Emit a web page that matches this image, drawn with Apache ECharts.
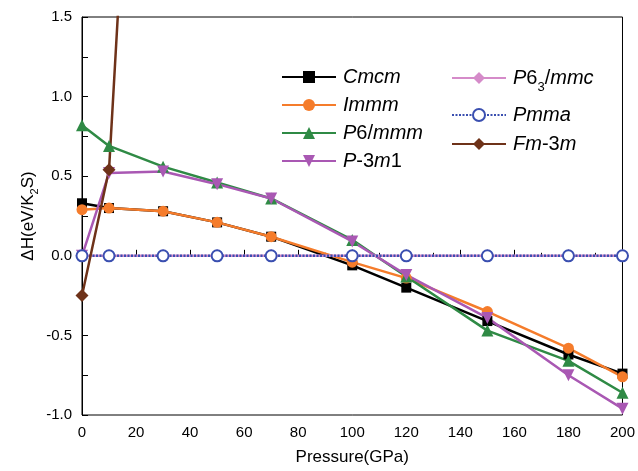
<!DOCTYPE html>
<html><head><meta charset="utf-8">
<script src="https://cdn.jsdelivr.net/npm/echarts@6/dist/echarts.min.js"></script>
<style>html,body{margin:0;padding:0;background:#fff}#c{width:638px;height:471px}</style>
</head><body><div id="c"></div>
<script>
var pressures = [0, 10, 30, 50, 70, 100, 120, 150, 180, 200];
var cmcm   = [0.33, 0.30, 0.28, 0.21, 0.12, -0.06, -0.20, -0.41, -0.62, -0.74];
var immm   = [0.29, 0.30, 0.28, 0.21, 0.12, -0.04, -0.14, -0.35, -0.58, -0.76];
var p6mmm  = [0.82, 0.69, 0.56, 0.46, 0.36, 0.10, -0.13, -0.47, -0.66, -0.86];
var p3m1   = [0.00, 0.52, 0.53, 0.45, 0.36, 0.09, -0.12, -0.39, -0.75, -0.96];
var p63mmc = [0, 0, 0, 0, 0, 0, 0, 0, 0, 0];
var pmma   = [0, 0, 0, 0, 0, 0, 0, 0, 0, 0];
var fmPressures = [0, 10, 30];
var fm3m   = [-0.25, 0.54, 6.5];
var yTicks = [-1.0, -0.5, 0.0, 0.5, 1.0, 1.5];

function pairs(xs, ys){ return xs.map(function(x,i){ return [x, ys[i]]; }); }

var F = 'Arial, "Liberation Sans", sans-serif';
var rich = {
  i: {fontStyle:'italic', fontSize:20, fontFamily:F, color:'#000'},
  n: {fontStyle:'normal', fontSize:20, fontFamily:F, color:'#000'},
  s: {fontStyle:'normal', fontSize:13, fontFamily:F, color:'#000', padding:[18,0,0,0]}
};
var labels = {
  'Cmcm': '{i|Cmcm}',
  'Immm': '{i|Immm}',
  'P6/mmm': '{i|P}{n|6/}{i|mmm}',
  'P-3m1': '{i|P}{n|-3}{i|m}{n|1}',
  'P63/mmc': '{i|P}{n|6}{s|3}{n|/}{i|mmc}',
  'Pmma': '{i|Pmma}',
  'Fm-3m': '{i|Fm}{n|-3}{i|m}'
};
function leg(name, left, top){
  return {data:[name], left:left, top:top, orient:'vertical', itemWidth:54, itemHeight:15, itemGap:0,
    formatter:function(n){return labels[n];}, textStyle:{rich:rich, padding:[0,0,0,2]}, selectedMode:false};
}
function ser(name, xs, ys, color, symbol, size, extra){
  var s = {name:name, type:'line', data:pairs(xs, ys), symbol:symbol, symbolSize:size,
    lineStyle:{color:color, width:2.5}, itemStyle:{color:color}, clip:true, z:2};
  if (extra) for (var k in extra) s[k]=extra[k];
  return s;
}
var chart = echarts.init(document.getElementById('c'));
chart.setOption({
  animation:false,
  backgroundColor:'#fff',
  grid:{left:82, right:11, top:17, bottom:56, show:true, borderColor:'#000', borderWidth:1},
  legend:[
    leg('Cmcm',276,62), leg('Immm',276,90), leg('P6/mmm',276,118), leg('P-3m1',276,146),
    leg('P63/mmc',446,63), leg('Pmma',446,100), leg('Fm-3m',446,129)
  ],
  xAxis:{type:'value', min:0, max:200, interval:20,
    name:'Pressure(GPa)', nameLocation:'middle', nameGap:34, nameMoveOverlap:false,
    nameTextStyle:{fontSize:17, fontFamily:F, color:'#000'},
    axisLine:{lineStyle:{color:'#000', width:1}},
    axisTick:{inside:true, length:6, lineStyle:{color:'#000'}},
    minorTick:{show:true, splitNumber:2, length:3, lineStyle:{color:'#000'}},
    axisLabel:{fontSize:15, fontFamily:F, color:'#000', margin:10},
    splitLine:{show:false}},
  yAxis:{type:'value', min:yTicks[0], max:yTicks[yTicks.length-1], interval:0.5,
    name:'ΔH(eV/K{sub|2}S)', nameLocation:'middle', nameGap:42, nameRotate:90, nameMoveOverlap:false,
    nameTextStyle:{fontSize:17, fontFamily:F, color:'#000', rich:{sub:{fontSize:11, fontFamily:F, color:'#000', padding:[12,0,0,0]}}},
    axisLine:{lineStyle:{color:'#000', width:1}},
    axisTick:{inside:true, length:6, lineStyle:{color:'#000'}},
    minorTick:{show:true, splitNumber:2, length:6, lineStyle:{color:'#000'}},
    axisLabel:{fontSize:15, fontFamily:F, color:'#000', margin:10, formatter:function(v){return v.toFixed(1);}},
    splitLine:{show:false}},
  series:[
    ser('Cmcm', pressures, cmcm, '#000000', 'rect', 10),
    ser('Immm', pressures, immm, '#f57c2b', 'circle', 11),
    ser('P6/mmm', pressures, p6mmm, '#2f8a45', 'triangle', 12),
    ser('P-3m1', pressures, p3m1, '#a958b3', 'path://M0,0 L10,0 L5,9 Z', 12),
    ser('P63/mmc', pressures, p63mmc, '#d58bc9', 'diamond', 13),
    ser('Pmma', pressures, pmma, '#3a4fb0', 'emptyCircle', 11, {lineStyle:{color:'#3a4fb0', width:2.5, type:[2,1.5]}, itemStyle:{color:'#3a4fb0', borderColor:'#3a4fb0', borderWidth:1}}),
    ser('Fm-3m', fmPressures, fm3m, '#6e3219', 'diamond', 13)
  ]
});
</script></body></html>
